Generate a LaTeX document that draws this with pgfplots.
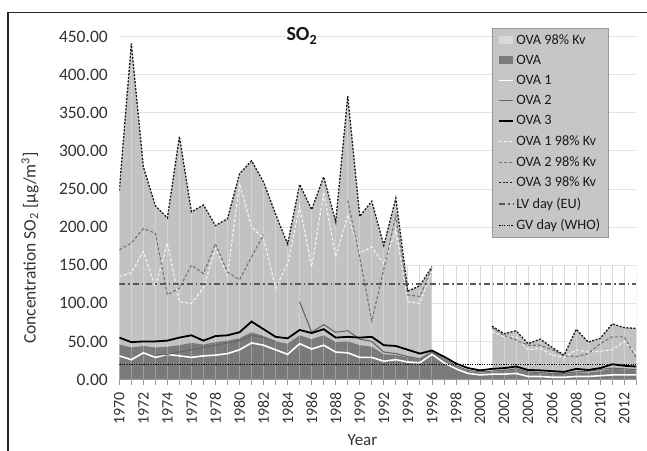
\documentclass[border=0pt]{standalone}
\usepackage{fontspec}
\setmainfont{Carlito}
\usepackage{pgfplots}
\usepackage{pgfplotstable}
\pgfplotsset{compat=1.18}

\pgfplotstableread{
year ova1k ova2k ova3k ova1 ova2 ova3 ova g
1970 135 170 248 31 nan 55 46 150
1971 140 179 441 26 nan 49 42 150
1972 168 198 279 35 nan 50 44 150
1973 122 192 228 29 32 50 42 150
1974 179 111 212 33 33 51 43 150
1975 102 120 319 31 36 55 45 150
1976 100 150 220 29 39 58 48 150
1977 120 139 229 31 42 51 46 150
1978 172 178 202 32 45 57 49 150
1979 137 141 211 34 48 58 51 150
1980 257 131 270 39 51 62 54 150
1981 200 161 287 48 58 76 62 150
1982 185 190 259 45 55 66 57 150
1983 120 nan 217 39 50 56 50 150
1984 152 nan 178 33 nan 54 47 150
1985 227 nan 256 47 102 65 58 150
1986 148 nan 223 40 62 61 53 150
1987 246 nan 266 45 72 66 58 150
1988 161 nan 207 36 62 55 49 150
1989 216 235 372 35 64 56 50 150
1990 166 160 214 29 53 55 45 150
1991 174 77 234 29 50 56 43 150
1992 152 145 176 24 36 45 33 150
1993 196 215 238 26 34 44 32 150
1994 102 111 116 23 30 39 29 150
1995 100 109 123 22 27 34 26 150
1996 144 146 148 33 36 38 36 150
1997 nan nan nan 22 27 30 26 150
1998 nan nan nan 14 18 21 17 150
1999 nan nan nan 8 12 15 11 150
2000 nan nan nan 6 10 12 9 150
2001 63 68 70 7 11 14 10 150
2002 56 58 60 7 12 15 11 150
2003 56 52 64 8 14 17 13 150
2004 39 45 47 4 10 12.5 9 150
2005 41 45 53 4 9 12 8 150
2006 32 39 42 3 8 11 7 150
2007 29 31 32 3 8 10 7 150
2008 39 30 66 4 10 14 9 150
2009 36 34 49 4 11 12.5 9 150
2010 37 47 54 5 13 15 11 150
2011 39 56 73 6 15 20 14 150
2012 50 56 68 6 14 18 13 150
2013 34 28 67 6 13 17 12 150
}\datatable

\begin{document}
\begin{tikzpicture}
\useasboundingbox (0pt,0pt) rectangle (647pt,450pt);
\draw[line width=1.4pt, black!85] (8pt,-5pt) -- (8pt,437.3pt) -- (655pt,437.3pt);
\begin{axis}[
  at={(119.3pt,70.5pt)}, anchor=south west,
  scale only axis, width=517pt, height=342.9pt,
  xmin=1970, xmax=2013, ymin=0, ymax=450,
  axis line style={draw=none},
  unbounded coords=jump,
  ytick={0,50,...,450},
  xtick={1970,1972,...,2012},
  minor xtick={1971,1973,...,2013},
  tick pos=left, tick align=outside,
  major tick length=5pt, minor tick length=5pt,
  xtick style={draw=gray!80, line width=0.8pt},
  minor tick style={draw=gray!80, line width=0.8pt},
  ytick style={draw=none},
  ymajorgrids, grid style={draw=gray!22, line width=0.9pt},
  yticklabel style={xshift=-3pt, font=\fontsize{17.5}{20}\selectfont, text=black!80,
    /pgf/number format/fixed, /pgf/number format/fixed zerofill,
    /pgf/number format/precision=2, /pgf/number format/assume math mode=true},
  xticklabel style={yshift=-4pt, rotate=90, anchor=east, font=\fontsize{16}{18}\selectfont, text=black!80,
    /pgf/number format/1000 sep={}, /pgf/number format/assume math mode=true},
  legend image code/.code={\draw[#1] (0pt,0pt) -- (14pt,0pt);},
  legend cell align=left,
  legend style={at={(0.721,1.025)}, anchor=north west, fill=gray!45, draw=gray!80,
    line width=0.8pt, font=\fontsize{14.3}{16}\selectfont, text=black!90,
    row sep=5.4pt, inner xsep=6pt, inner ysep=4pt,
    /tikz/every even column/.append style={column sep=1pt}},
]
% vertical grid lines up to 150
\addplot[ycomb, draw=gray!28, line width=0.9pt, forget plot] table[x=year, y=g] {\datatable};
% OVA 98% Kv area
\addplot[fill=gray!48, draw=none, restrict x to domain=1970:1996,
  legend image code/.code={\fill[gray!30] (0pt,-4pt) rectangle (14pt,4pt);}]
  table[x=year, y=ova3k] {\datatable} \closedcycle;
\addlegendentry{OVA 98\% Kv}
\addplot[fill=gray!48, draw=none, restrict x to domain=2001:2013, forget plot]
  table[x=year, y=ova3k] {\datatable} \closedcycle;
% OVA area
\addplot[fill=black!52, draw=none,
  legend image code/.code={\fill[black!52] (0pt,-4pt) rectangle (14pt,4pt);}]
  table[x=year, y=ova] {\datatable} \closedcycle;
\addlegendentry{OVA}
% stripes over the areas
\addplot[ycomb, draw=white, opacity=0.28, line width=1pt, forget plot] table[x=year, y=ova3k] {\datatable};
% solid lines
\addplot[white, line width=1.6pt] table[x=year, y=ova1] {\datatable};
\addlegendentry{OVA 1}
\addplot[black!60, line width=1.1pt] table[x=year, y=ova2] {\datatable};
\addlegendentry{OVA 2}
\addplot[black, line width=1.8pt] table[x=year, y=ova3] {\datatable};
\addlegendentry{OVA 3}
% 98% lines
\addplot[white!92!gray, line width=1.1pt, dash pattern=on 3pt off 2pt] table[x=year, y=ova1k] {\datatable};
\addlegendentry{OVA 1 98\% Kv}
\addplot[black!55, line width=1.1pt, dash pattern=on 3pt off 2pt] table[x=year, y=ova2k] {\datatable};
\addlegendentry{OVA 2 98\% Kv}
\addplot[black!90, line width=1.3pt, dash pattern=on 2pt off 1.5pt] table[x=year, y=ova3k] {\datatable};
\addlegendentry{OVA 3 98\% Kv}
% limits
\addplot[black!65, line width=1.6pt, dash pattern=on 6pt off 3pt on 1.5pt off 3pt] coordinates {(1970,125) (2013,125)};
\addlegendentry{LV day (EU)}
\addplot[black, line width=1.3pt, dash pattern=on 1.2pt off 1.2pt] coordinates {(1970,20) (2013,20)};
\addlegendentry{GV day (WHO)}
\draw[gray!80, line width=0.9pt] (axis cs:1970,0) -- (axis cs:2013,0);
\end{axis}
\node[anchor=base west, font=\fontsize{20}{22}\selectfont\bfseries, text=black!90] at (283pt,409pt) {SO\textsubscript{2}};
\node[rotate=90, font=\fontsize{17.5}{20}\selectfont, text=black!80] at (30pt,202pt) {Concentration SO\textsubscript{2} [µg/m\textsuperscript{3}]};
\node[font=\fontsize{17}{20}\selectfont, text=black!80] at (362.5pt,10pt) {Year};
\end{tikzpicture}
\end{document}
